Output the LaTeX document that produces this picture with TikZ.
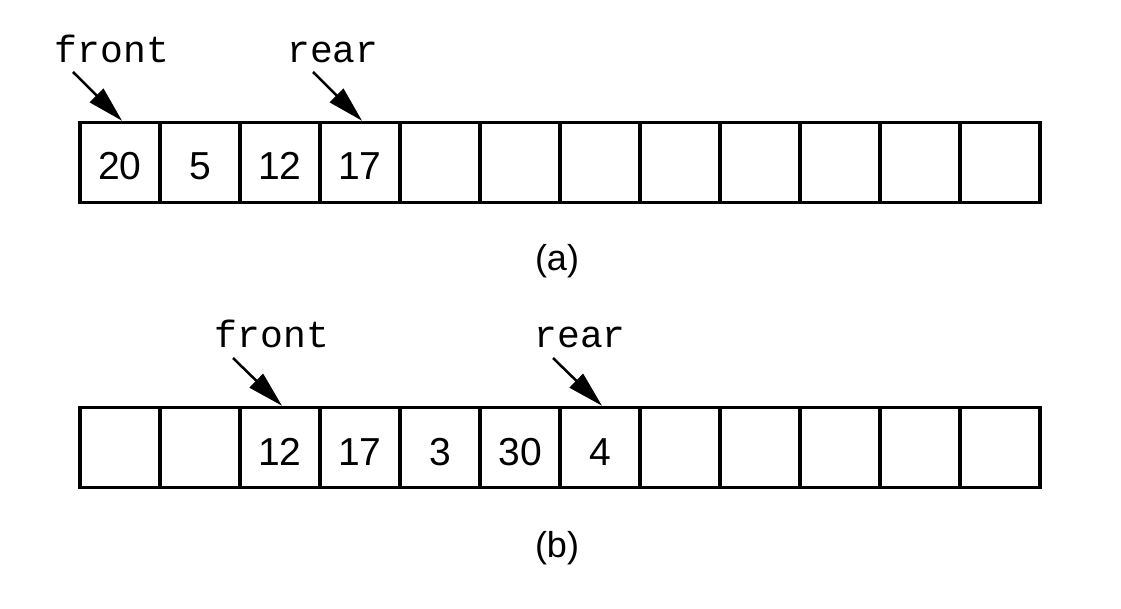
\documentclass[tikz,border=0pt]{standalone}
\usepackage{fontspec}
\setmainfont{Liberation Sans}
\newfontfamily\courfont{Liberation Mono}
\usetikzlibrary{arrows.meta}
\begin{document}
\begin{tikzpicture}[x=1pt,y=-1pt,
  cell/.style={draw,line width=3.5pt,minimum width=80pt,minimum height=80pt,inner sep=0pt,
    text height=35pt,text depth=0pt,font=\fontsize{39}{42}\selectfont},
  ptr/.style={font=\courfont\fontsize{38}{42}\selectfont,inner sep=0pt,anchor=base},
  captext/.style={font=\fontsize{36}{40}\selectfont,inner sep=0pt},
  parrow/.style={line width=2.5pt,-{Triangle[length=36pt,width=19pt]}}]
\useasboundingbox (0,0) rectangle (1121,609);
% (a)
\foreach \i/\v in {1/20,2/5,3/12,4/17,5/,6/,7/,8/,9/,10/,11/,12/}{
  \node[cell] (a\i) at ({40+80*\i},162.5) {\v};
}
\node[ptr] (fa) at (112,63) {front};
\node[ptr] (ra) at (333,63) {rear};
\coordinate (fas) at (73,72);
\coordinate (ras) at (313,72);
\draw[parrow] (fas) -- ([xshift=2pt]a1.north);
\draw[parrow] (ras) -- ([xshift=2pt]a4.north);
\node[captext] (ca) at (557,261) {(a)};
% (b)
\foreach \i/\v in {1/,2/,3/12,4/17,5/3,6/30,7/4,8/,9/,10/,11/,12/}{
  \node[cell] (b\i) at ({40+80*\i},447.5) {\v};
}
\node[ptr] (fb) at (272,348) {front};
\node[ptr] (rb) at (580,348) {rear};
\coordinate (fbs) at (233,358);
\coordinate (rbs) at (553,358);
\draw[parrow] (fbs) -- ([xshift=2pt]b3.north);
\draw[parrow] (rbs) -- ([xshift=2pt]b7.north);
\node[captext] (cb) at (557,548) {(b)};
\end{tikzpicture}
\end{document}
